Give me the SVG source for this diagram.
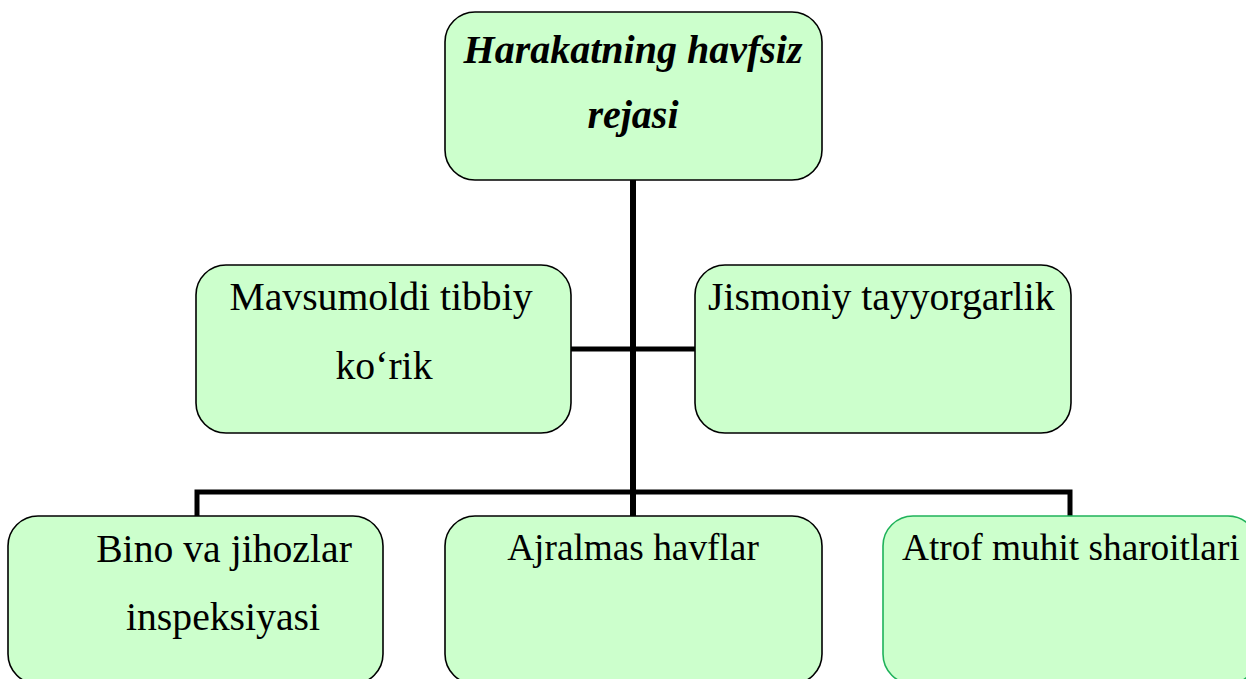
<svg xmlns="http://www.w3.org/2000/svg" width="1246" height="679" viewBox="0 0 1246 679">
<style>
.box{fill:#ccffcc;stroke:#000;stroke-width:1.6}
.gbox{fill:#ccffcc;stroke:#1fb25a;stroke-width:1.6}
.t{font-family:"Liberation Serif","Times New Roman",serif;font-size:37.3px;fill:#000}
.t40{font-family:"Liberation Serif","Times New Roman",serif;font-size:39.7px;fill:#000}
.bi{font-family:"Liberation Serif","Times New Roman",serif;font-size:40px;font-weight:bold;font-style:italic;fill:#000}
.c{fill:none;stroke:#000;stroke-linejoin:miter;stroke-linecap:butt}
</style>
<rect width="1246" height="679" fill="#fff"/>
<g id="connectors">
<line class="c" x1="633" y1="180" x2="633" y2="516" stroke-width="6"/>
<line class="c" x1="571" y1="349" x2="695" y2="349" stroke-width="5"/>
<path class="c" d="M197,516 V492 H1070 V516" stroke-width="5"/>
</g>
<g id="node-top">
<rect class="box" x="445" y="12" width="377" height="168" rx="30"/>
<text class="bi" x="633" y="63" text-anchor="middle">Harakatning havfsiz</text>
<text class="bi" x="633" y="128" text-anchor="middle">rejasi</text>
</g>
<g id="node-tibbiy">
<rect class="box" x="196" y="265" width="375" height="168" rx="30"/>
<text class="t40" x="381" y="310" text-anchor="middle">Mavsumoldi tibbiy</text>
<text class="t40" x="384" y="379" text-anchor="middle">ko‘rik</text>
</g>
<g id="node-jismoniy">
<rect class="box" x="695" y="265" width="376" height="168" rx="30"/>
<text class="t40" x="708" y="310">Jismoniy tayyorgarlik</text>
</g>
<g id="node-bino">
<rect class="box" x="8" y="516" width="375" height="168" rx="30"/>
<text class="t40" x="224" y="562" text-anchor="middle">Bino va jihozlar</text>
<text class="t40" x="223" y="630" text-anchor="middle">inspeksiyasi</text>
</g>
<g id="node-ajralmas">
<rect class="box" x="445" y="516" width="377" height="168" rx="30"/>
<text class="t" x="633" y="560" text-anchor="middle">Ajralmas havflar</text>
</g>
<g id="node-atrof">
<rect class="gbox" x="883" y="516" width="375" height="168" rx="30"/>
<text class="t" x="902" y="560">Atrof muhit sharoitlari</text>
</g>
</svg>
